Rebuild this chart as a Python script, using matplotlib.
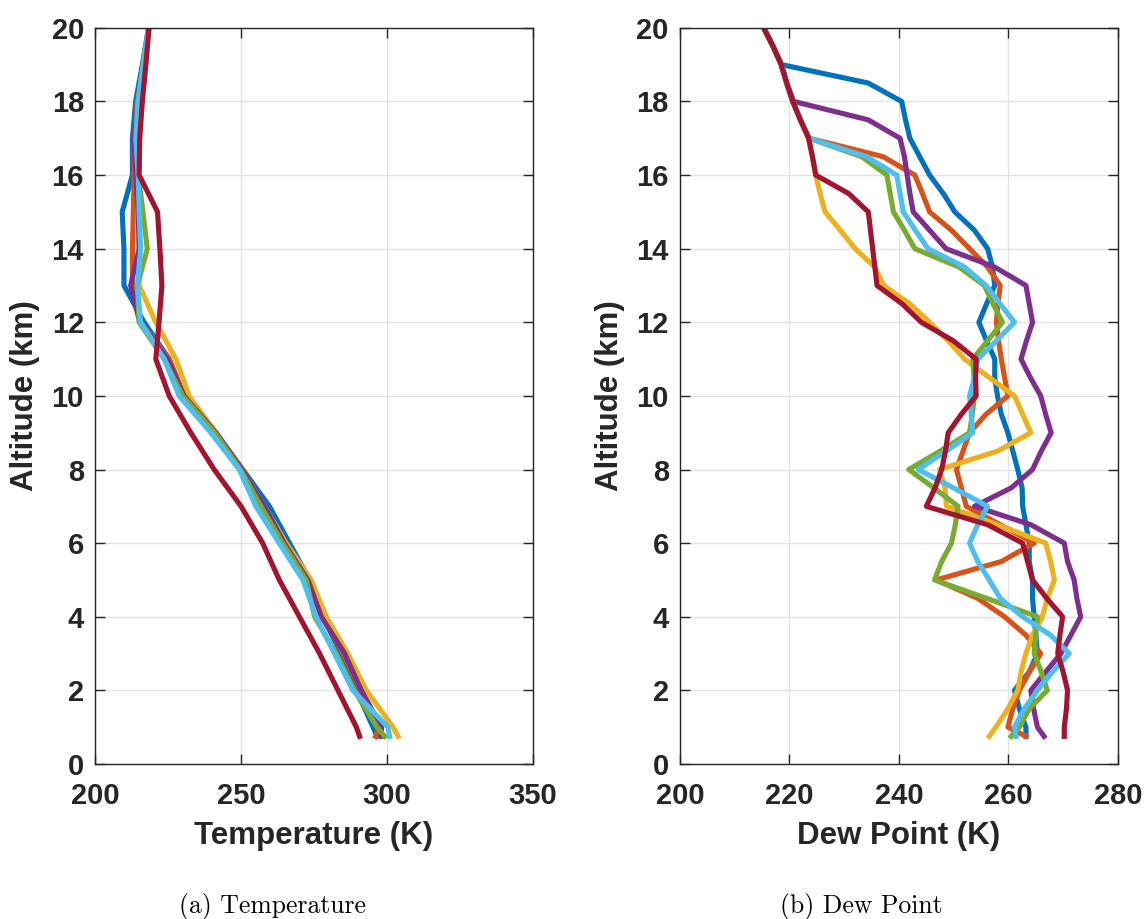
import numpy as np
import matplotlib
matplotlib.use("Agg")
import matplotlib.pyplot as plt

# MATLAB default colour order
colors = ["#0072BD", "#D95319", "#EDB120", "#7E2F8E", "#77AC30", "#4DBEEE", "#A2142F"]

# ---- temperature profiles (K), altitude 0.75, 1, 2, ..., 20 km
alt_t = [0.75] + list(range(1, 21))
t_blue = [296.6, 295.2, 289.5, 284.3, 278.0, 273.5, 266.6, 259.7, 250.6, 241.4, 230.5,
          225.4, 216.8, 209.9, 209.9, 209.3, 212.8, 212.8, 213.9, 216.2, 218.3]
t_orange = [296.1, 297.3, 291.0, 285.0, 278.0, 273.5, 265.4, 258.0, 250.3, 241.4, 230.5,
            225.4, 215.6, 212.8, 212.8, 213.1, 213.4, 213.4, 214.5, 216.5, 218.4]
t_yellow = [303.8, 302.1, 292.9, 286.6, 279.2, 274.0, 265.4, 258.0, 250.3, 241.4, 232.2,
            227.7, 220.8, 215.1, 215.1, 214.8, 214.8, 214.0, 214.8, 216.5, 218.4]
t_purple = [298.1, 298.1, 291.2, 285.5, 277.5, 272.9, 264.8, 258.0, 250.3, 241.4, 230.5,
            224.8, 215.3, 212.2, 215.1, 214.8, 214.0, 213.4, 215.0, 216.5, 218.4]
t_green = [299.2, 296.6, 288.8, 282.6, 275.2, 272.3, 264.2, 256.8, 249.8, 241.0, 230.0,
           223.7, 215.1, 214.5, 217.9, 216.4, 214.8, 214.0, 214.8, 216.5, 218.4]
t_cyan = [300.9, 300.3, 288.3, 282.0, 275.7, 271.2, 263.1, 255.1, 249.4, 239.7, 228.8,
          223.7, 215.6, 214.5, 215.6, 215.1, 214.8, 214.0, 214.8, 216.5, 218.4]
t_red = [290.6, 289.5, 283.2, 276.9, 270.0, 263.1, 257.4, 250.0, 240.8, 232.8, 225.4,
         220.8, 221.9, 222.9, 222.2, 221.4, 215.1, 215.3, 216.2, 217.4, 218.5]

# ---- dew point profiles (K), altitude 0.75, 1.0, 1.5, ..., 20 km
alt_td = [0.75] + list(np.arange(1.0, 20.01, 0.5))
td_blue = [263.2, 263.2, 262.0, 261.1, 263.8, 265.3, 265.0, 264.7, 264.4, 264.4,
           263.8, 263.8, 263.2, 262.6, 262.5, 261.7, 260.8, 259.9, 258.7, 258.0,
           257.5, 257.5, 256.0, 254.6, 256.0, 257.5, 257.1, 256.2, 253.8, 250.2,
           248.1, 245.6, 243.8, 242.0, 241.2, 240.5, 234.4, 218.6, 217.0, 215.3]
td_orange = [263.2, 259.9, 260.8, 262.0, 263.8, 265.9, 263.2, 259.3, 254.4, 246.8,
             258.7, 264.7, 258.5, 252.3, 251.4, 250.5, 251.7, 252.9, 255.9, 259.9,
             259.3, 258.7, 258.2, 257.8, 258.1, 258.5, 256.2, 252.9, 249.6, 245.6,
             244.3, 242.9, 237.1, 223.6, 222.0, 220.6, 219.5, 218.5, 217.0, 215.3]
td_yellow = [256.5, 257.7, 259.9, 261.7, 262.3, 263.2, 264.4, 266.2, 267.1, 268.4,
             267.7, 266.8, 258.0, 248.7, 248.4, 247.4, 258.0, 264.1, 262.6, 261.1,
             256.5, 252.0, 249.0, 245.6, 242.0, 237.2, 235.6, 232.0, 229.3, 226.5,
             225.6, 224.8, 224.2, 223.5, 222.0, 220.6, 219.5, 218.5, 217.0, 215.3]
td_purple = [266.5, 265.3, 264.6, 264.1, 266.8, 269.6, 271.4, 273.2, 272.5, 272.0,
             270.8, 270.2, 264.1, 253.8, 260.5, 264.4, 266.0, 267.8, 266.8, 265.9,
             264.0, 262.3, 263.3, 264.4, 263.8, 263.2, 257.5, 248.6, 245.6, 242.6,
             242.0, 241.5, 241.0, 240.2, 234.4, 220.8, 219.5, 218.5, 217.0, 215.3]
td_green = [260.5, 262.0, 263.8, 267.1, 266.0, 264.7, 265.0, 265.3, 256.0, 246.5,
            247.8, 249.6, 250.3, 250.8, 246.4, 241.8, 247.5, 252.9, 253.4, 253.8,
            253.7, 253.5, 256.2, 258.9, 257.2, 255.6, 251.0, 242.9, 241.0, 239.0,
            238.4, 237.8, 233.2, 223.6, 222.0, 220.6, 219.5, 218.5, 217.0, 215.3]
td_cyan = [261.4, 261.1, 262.9, 265.3, 268.0, 271.1, 267.7, 262.6, 258.5, 256.5,
           254.4, 252.9, 254.4, 256.2, 250.0, 243.5, 248.6, 253.5, 253.2, 252.9,
           253.8, 254.4, 257.8, 261.1, 258.5, 255.9, 252.0, 245.3, 243.0, 240.8,
           240.2, 239.6, 234.1, 223.6, 222.0, 220.6, 219.5, 218.5, 217.0, 215.3]
td_red = [270.2, 270.2, 270.6, 270.8, 270.0, 269.0, 269.4, 269.9, 267.0, 264.4,
          263.5, 262.6, 256.2, 245.0, 246.6, 247.8, 248.5, 249.0, 251.4, 254.1,
          254.0, 254.1, 249.9, 244.1, 240.6, 236.0, 235.6, 235.2, 234.8, 234.4,
          230.8, 224.8, 224.2, 223.5, 222.0, 220.6, 219.5, 218.5, 217.0, 215.3]

temps = [t_blue, t_orange, t_yellow, t_purple, t_green, t_cyan, t_red]
dews = [td_blue, td_orange, td_yellow, td_purple, td_green, td_cyan, td_red]

plt.rcParams['font.family'] = ['Liberation Sans', 'DejaVu Sans']
plt.rcParams['font.weight'] = 'bold'

fig = plt.figure(figsize=(11.48, 9.19), dpi=100)
ax1 = fig.add_axes([0.0828, 0.1687, 0.3815, 0.801])
ax2 = fig.add_axes([0.5923, 0.1687, 0.3815, 0.801])

ink = "#262626"

def style(ax, xlim, xticks, xlabel):
    ax.set_xlim(xlim)
    ax.set_ylim(0, 20)
    ax.set_xticks(xticks)
    ax.set_yticks(range(0, 21, 2))
    ax.grid(True, color="#e3e3e3", linewidth=1.0)
    ax.set_axisbelow(True)
    ax.tick_params(direction="in", top=True, right=True, length=7, width=1.0,
                   colors=ink, labelsize=21)
    ax.tick_params(axis="x", pad=13)
    ax.tick_params(axis="y", pad=8)
    for s in ax.spines.values():
        s.set_color(ink)
        s.set_linewidth(1.0)
    ax.set_xlabel(xlabel, fontsize=22.5, fontweight="bold", color=ink, labelpad=8)
    ax.set_ylabel("Altitude (km)", fontsize=22.5, fontweight="bold", color=ink, labelpad=8)

for vals, c in zip(temps, colors):
    ax1.plot(vals, alt_t, color=c, linewidth=3.7)
for vals, c in zip(dews, colors):
    ax2.plot(vals, alt_td, color=c, linewidth=3.7)

style(ax1, (200, 350), [200, 250, 300, 350], "Temperature (K)")
style(ax2, (200, 280), [200, 220, 240, 260, 280], "Dew Point (K)")

fig.text(0.237, 0.0141, "(a) Temperature", family="cmr10", fontweight="normal",
         fontsize=18.5, ha="center", va="center", color="black")
fig.text(0.750, 0.0141, "(b) Dew Point", family="cmr10", fontweight="normal",
         fontsize=18.5, ha="center", va="center", color="black")

fig.savefig("out.png", dpi=100)
